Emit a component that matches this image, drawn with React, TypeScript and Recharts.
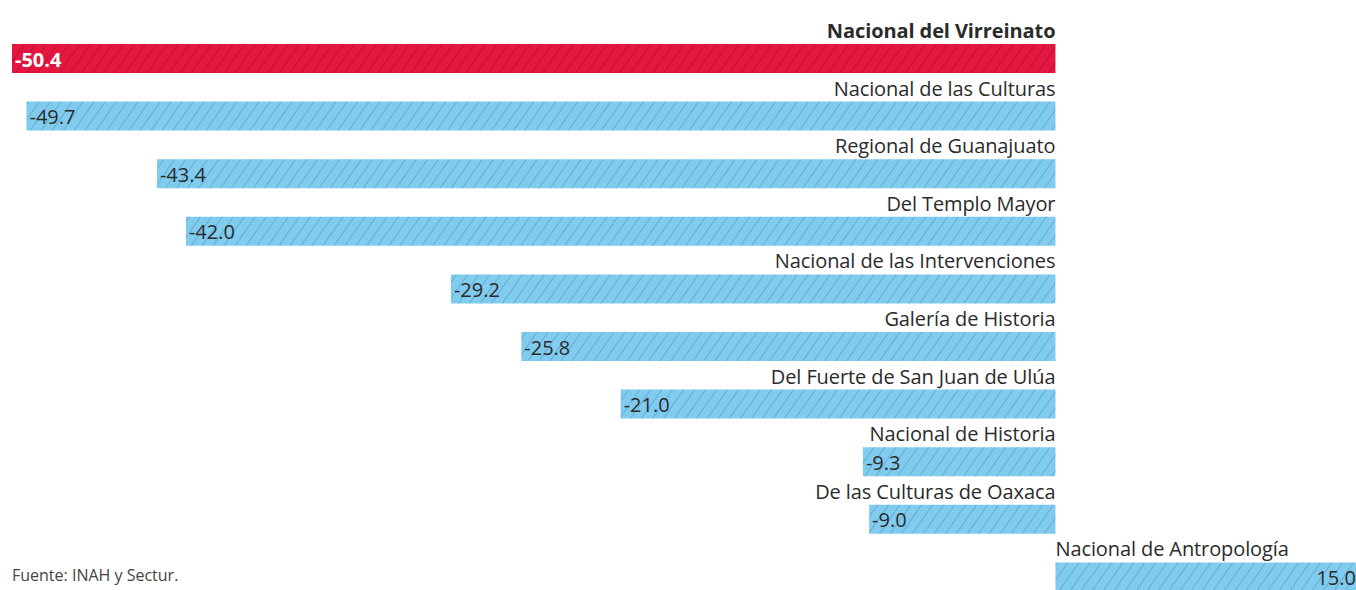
import { BarChart, Bar, XAxis, YAxis, Cell, LabelList } from "recharts";

const museums = [
  "Nacional del Virreinato",
  "Nacional de las Culturas",
  "Regional de Guanajuato",
  "Del Templo Mayor",
  "Nacional de las Intervenciones",
  "Galería de Historia",
  "Del Fuerte de San Juan de Ulúa",
  "Nacional de Historia",
  "De las Culturas de Oaxaca",
  "Nacional de Antropología",
];
const changes = [-50.4, -49.7, -43.4, -42.0, -29.2, -25.8, -21.0, -9.3, -9.0, 15.0];
const highlighted = "Nacional del Virreinato";
const source = "Fuente: INAH y Sectur.";

const data = museums.map((name, i) => ({ name, value: changes[i] }));

const FONT = "'Open Sans', Lato, sans-serif";

function NameLabel(props: any) {
  const { x, y, width, value } = props;
  const left = Math.min(x, x + width);
  const right = Math.max(x, x + width);
  const neg = data.find((d) => d.name === value)!.value < 0;
  return (
    <text
      x={neg ? right : left}
      y={y - 6}
      textAnchor={neg ? "end" : "start"}
      fontFamily={FONT}
      fontSize={20}
      letterSpacing={-0.1}
      fontWeight={value === highlighted ? 700 : 400}
      fill="#2b2b2b"
    >
      {value}
    </text>
  );
}

function ValueLabel(props: any) {
  const { x, y, width, height, value } = props;
  const left = Math.min(x, x + width);
  const right = Math.max(x, x + width);
  const neg = value < 0;
  const first = value === changes[0];
  return (
    <text
      x={neg ? left + 3 : right - 10}
      y={y + height / 2 + 8}
      textAnchor={neg ? "start" : "end"}
      fontFamily={FONT}
      fontSize={20}
      fontWeight={first ? 700 : 400}
      fill={first ? "#ffffff" : "#2b2b2b"}
    >
      {value.toFixed(1)}
    </text>
  );
}

export default function App() {
  return (
    <div
      style={{
        position: "absolute",
        left: 0,
        top: 0,
        width: 1356,
        height: 590,
        overflow: "hidden",
        background: "#fff",
      }}
    >
      <BarChart
        width={1366}
        height={610}
        data={data}
        layout="vertical"
        margin={{ top: 30, right: 0, bottom: 4, left: 12 }}
        barCategoryGap={0}
      >
        <defs>
          <pattern
            id="hatchRed"
            patternUnits="userSpaceOnUse"
            width={9}
            height={12}
            patternTransform="rotate(35)"
          >
            <rect width={9} height={12} fill="#e3173f" />
            <line x1={0} y1={0} x2={0} y2={12} stroke="#a80d2c" strokeWidth={1.2} />
          </pattern>
          <pattern
            id="hatchBlue"
            patternUnits="userSpaceOnUse"
            width={9}
            height={12}
            patternTransform="rotate(35)"
          >
            <rect width={9} height={12} fill="#80cbee" />
            <line x1={0} y1={0} x2={0} y2={12} stroke="#4f9cc4" strokeWidth={1.2} />
          </pattern>
        </defs>
        <XAxis type="number" domain={[-50.4, 15]} hide />
        <YAxis type="category" dataKey="name" hide />
        <Bar dataKey="value" barSize={29} isAnimationActive={false}>
          {data.map((d) => (
            <Cell
              key={d.name}
              fill={d.name === highlighted ? "url(#hatchRed)" : "url(#hatchBlue)"}
            />
          ))}
          <LabelList dataKey="name" content={NameLabel} />
          <LabelList dataKey="value" content={ValueLabel} />
        </Bar>
      </BarChart>
      <div
        style={{
          position: "absolute",
          left: 12,
          top: 565,
          fontFamily: FONT,
          fontSize: 16,
          lineHeight: "20px",
          color: "#444",
          whiteSpace: "nowrap",
        }}
      >
        {source}
      </div>
    </div>
  );
}
